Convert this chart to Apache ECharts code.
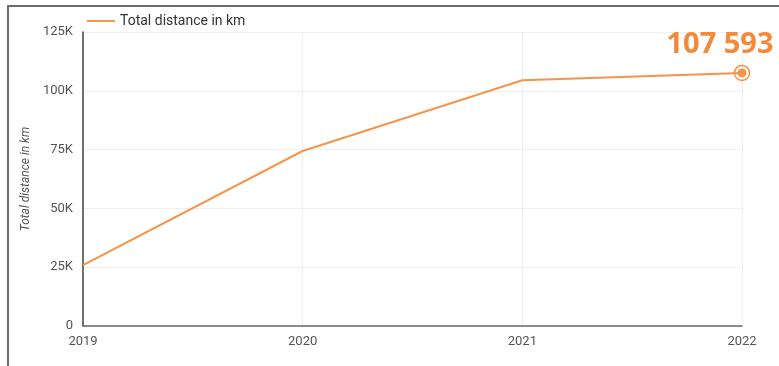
<!DOCTYPE html>
<html lang="en">
<head>
    <meta charset="UTF-8">
    <title>Total distance in km</title>
    <script src="https://cdn.jsdelivr.net/npm/echarts@6/dist/echarts.min.js"></script>
    <style>
        body { margin: 0; background: #fff; }
        #frame { position: absolute; left: 7px; top: 5px; right: 0; bottom: 0; border-left: 2px solid #6b6b70; border-top: 2px solid #6b6b70; }
        #chart { position: absolute; left: 0; top: 0; width: 779px; height: 366px; }
    </style>
</head>
<body>
    <div id="frame"></div>
    <div id="chart"></div>
    <script>
        // data
        const years = ['2019', '2020', '2021', '2022'];
        const distance = [25900, 74400, 104500, 107593];
        const yTicks = [0, 25000, 50000, 75000, 100000, 125000];

        const orange = '#f5944b';
        const last = distance.length - 1;

        function fmtK(v) {
            return v === 0 ? '0' : (v / 1000) + 'K';
        }
        function fmtSpace(v) {
            return String(v).replace(/\B(?=(\d{3})+(?!\d))/g, ' ');
        }

        const chart = echarts.init(document.getElementById('chart'));
        chart.setOption({
            animation: false,
            textStyle: { fontFamily: 'Roboto' },
            legend: {
                left: 82, top: 9,
                itemWidth: 28, itemHeight: 2, itemGap: 8,
                icon: 'rect',
                textStyle: { fontSize: 14, color: '#333' },
                data: ['Total distance in km']
            },
            grid: { left: 83, right: 37, top: 32, bottom: 40 },
            xAxis: {
                type: 'category',
                data: years,
                boundaryGap: false,
                axisLine: { lineStyle: { color: '#666', width: 1.5 } },
                axisTick: { show: false },
                axisLabel: { color: '#555', fontSize: 13, margin: 9 },
                splitLine: { show: true, lineStyle: { color: '#eeeeee' } }
            },
            yAxis: {
                type: 'value',
                min: yTicks[0],
                max: yTicks[yTicks.length - 1],
                interval: 25000,
                name: 'Total distance in km',
                nameLocation: 'middle',
                nameGap: 49,
                nameTextStyle: { fontStyle: 'italic', color: '#555', fontSize: 12 },
                axisLine: { show: true, lineStyle: { color: '#444', width: 1.5 } },
                axisTick: { show: false },
                axisLabel: { color: '#555', fontSize: 13, margin: 10, formatter: fmtK },
                splitLine: { lineStyle: { color: '#f0f0f0' } }
            },
            series: [{
                name: 'Total distance in km',
                type: 'line',
                color: orange,
                lineStyle: { width: 2 },
                showSymbol: true,
                data: distance.map((v, i) => i === last
                    ? { value: v, symbol: 'circle', symbolSize: 9 }
                    : { value: v, symbol: 'none' }),
                markPoint: {
                    symbol: 'circle',
                    symbolSize: 15,
                    itemStyle: { color: 'rgba(255,255,255,0)', borderColor: orange, borderWidth: 1.5 },
                    label: {
                        show: true,
                        position: 'top',
                        offset: [-22, 0],
                        formatter: p => fmtSpace(p.value),
                        fontFamily: 'Open Sans',
                        fontWeight: 'bold',
                        fontSize: 29,
                        color: '#f28a3a'
                    },
                    data: [{ coord: [last, distance[last]], value: distance[last] }]
                }
            }]
        });
    </script>
</body>
</html>
